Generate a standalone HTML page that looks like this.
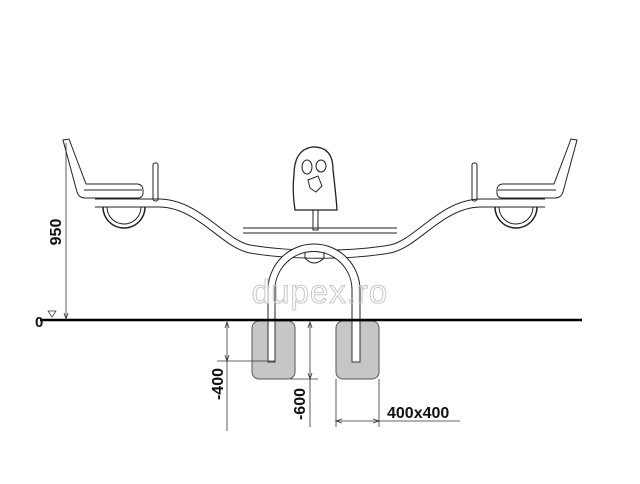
<!DOCTYPE html>
<html><head><style>body{margin:0;background:#fff}svg{display:block}</style></head><body>
<svg width="640" height="484" viewBox="0 0 640 484" xmlns="http://www.w3.org/2000/svg" font-family="Liberation Sans, sans-serif">
<g fill="none" stroke="#222" stroke-width="1">
<path d="M95,199 L160,199 C200,200 225,240 250,245 C290,252 350,252 390,245 C415,240 440,200 480,199 L545,199"/>
<path d="M95,207 L160,207 C198,208 222,248 250,253 C290,260 350,260 390,253 C418,248 442,208 480,207 L545,207"/>
<line x1="243" y1="228" x2="397" y2="228"/><line x1="243" y1="233" x2="397" y2="233"/>
<path d="M63,140 L69,139 L86,184 L138,184 Q143,185 143,190 L143,194 Q142,198 138,198 L85,198 Q79,198 77,192 Z"/>
<line x1="84" y1="190" x2="142" y2="190"/>
<path d="M103,207 A21,21 0 0 0 145,207" stroke-width="1.5"/>
<path d="M107,207 A17,17 0 0 0 141,207"/>
<rect x="153" y="163" width="5" height="38" rx="2"/>
<path d="M577,140 L571,139 L554,184 L502,184 Q497,185 497,190 L497,194 Q498,198 502,198 L555,198 Q561,198 563,192 Z"/>
<line x1="556" y1="190" x2="498" y2="190"/>
<path d="M537,207 A21,21 0 0 1 495,207" stroke-width="1.5"/>
<path d="M533,207 A17,17 0 0 1 499,207"/>
<rect x="472" y="163" width="5" height="38" rx="2"/>
<path d="M295,210 Q292,190 294,175 Q294,150 312,147 Q333,146 333,170 Q336,195 337,210 Z" stroke-width="1.3"/>
<ellipse cx="307" cy="167" rx="5" ry="7"/><ellipse cx="321" cy="166" rx="5" ry="6"/>
<path d="M308,180 L318,176 L322,186 L316,192 L310,188 Z"/>
<rect x="313" y="210" width="5" height="20"/>
<path d="M268,362 L268,290 A45,45 0 0 1 360,290 L360,362 L352,362 L352,290 A38,38 0 0 0 275,290 L275,362 Z" fill="#fff"/>
<path d="M305,252 L305,258 Q314,268 324,258 L324,252" />
</g>
<text x="320" y="303" text-anchor="middle" font-size="33" fill="none" stroke="#c8c8c8" stroke-width="1" letter-spacing="1">dupex.ro</text>
<rect x="252" y="321" width="43" height="58" rx="7" fill="#c6c6c6" stroke="#555"/>
<rect x="336" y="321" width="43" height="58" rx="7" fill="#c6c6c6" stroke="#555"/>
<rect x="268" y="321" width="7" height="41" fill="#fff" stroke="#333"/>
<rect x="352" y="321" width="8" height="41" fill="#fff" stroke="#333"/>
<line x1="40" y1="320" x2="582" y2="320" stroke="#000" stroke-width="2.5"/>
<g stroke="#333" stroke-width="0.8" fill="none">
<line x1="66" y1="143" x2="66" y2="319"/>
<path d="M64,313 L66,319 L68,313"/>
<path d="M48,311 L56,311 L52,317 Z" stroke-width="0.7"/>
<line x1="227" y1="322" x2="227" y2="431"/><line x1="217" y1="361" x2="275" y2="361"/>
<path d="M225,328 L227,322 L229,328"/><path d="M225,355 L227,361 L229,355"/>
<line x1="310" y1="322" x2="310" y2="427"/><line x1="290" y1="379" x2="318" y2="379"/>
<path d="M308,328 L310,322 L312,328"/><path d="M308,373 L310,379 L312,373"/>
<line x1="336" y1="379" x2="336" y2="427"/><line x1="379" y1="379" x2="379" y2="427"/>
<line x1="336" y1="421" x2="460" y2="421"/>
<path d="M342,419 L336,421 L342,423"/><path d="M373,419 L379,421 L373,423"/>
</g>
<g font-weight="bold" font-size="16" fill="#111">
<text x="35" y="327" font-size="15">0</text>
<text transform="translate(61,232) rotate(-90)" text-anchor="middle">950</text>
<text transform="translate(223,384) rotate(-90)" text-anchor="middle">-400</text>
<text transform="translate(305,404) rotate(-90)" text-anchor="middle">-600</text>
<text x="387" y="418" font-size="16">400x400</text>
</g>
</svg>
</body></html>
